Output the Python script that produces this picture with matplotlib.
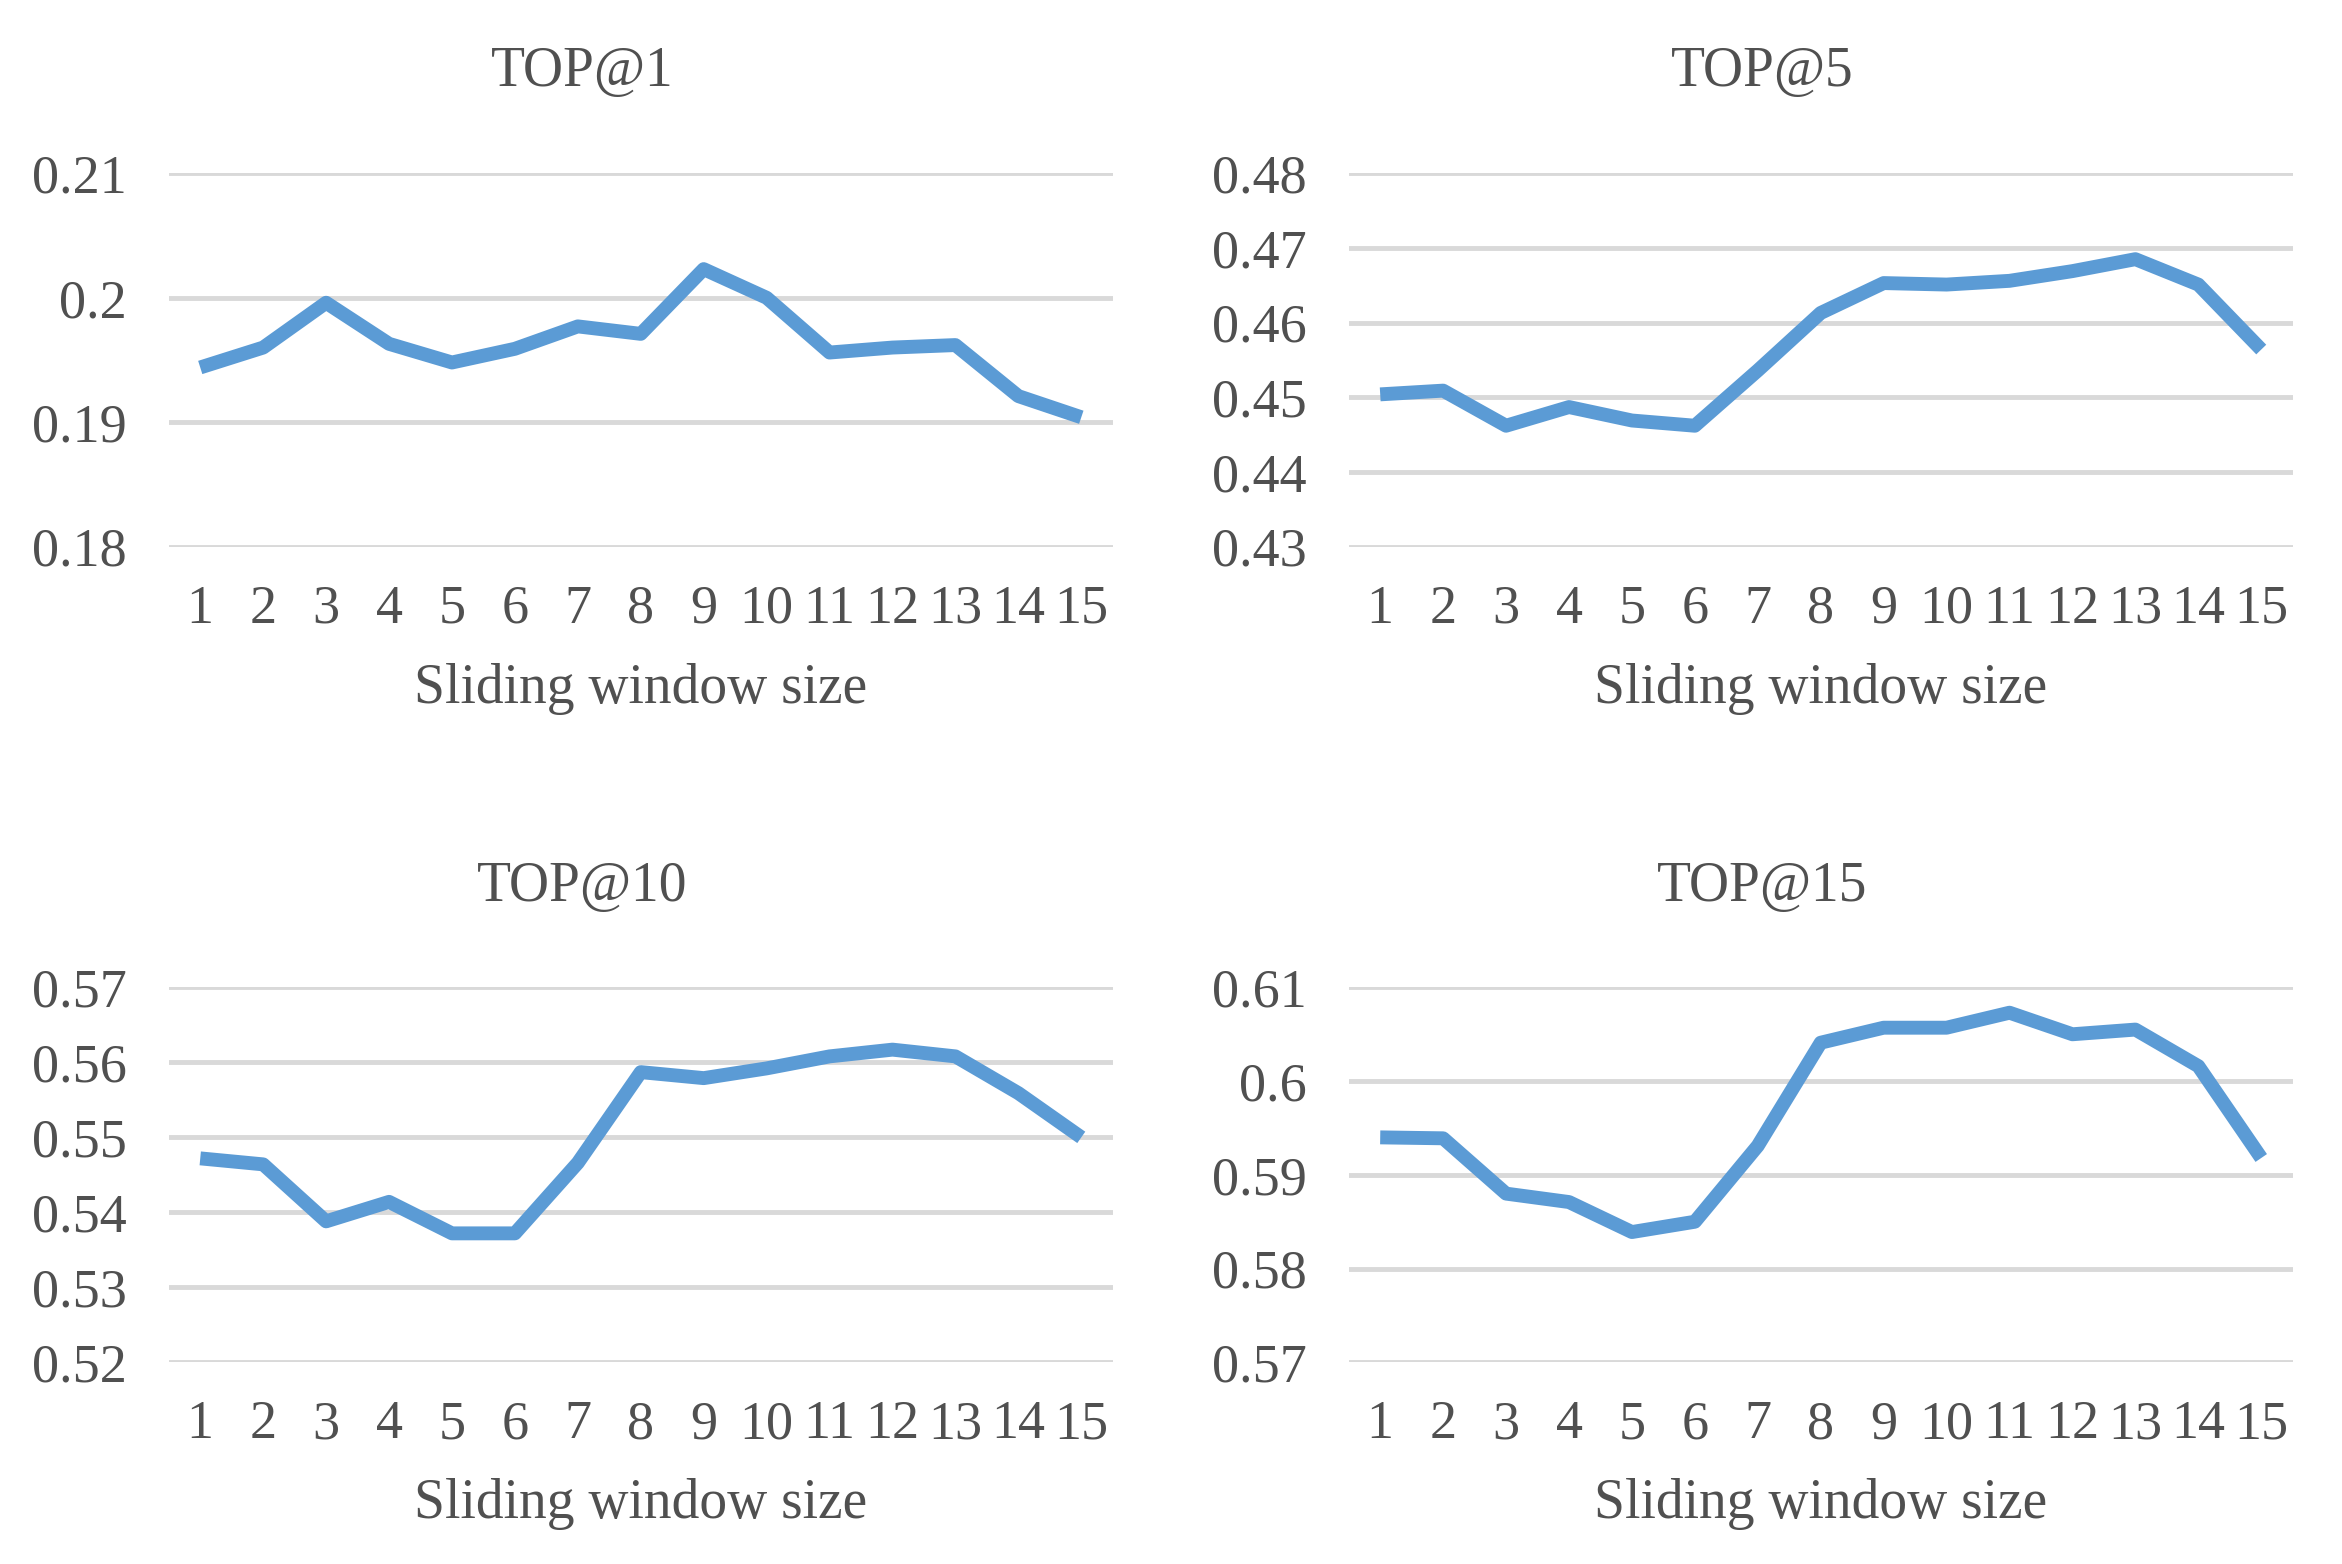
import numpy as np
import matplotlib.pyplot as plt

plt.rcParams['font.family'] = ['Liberation Serif', 'DejaVu Serif']

window = list(range(1, 16))

top1 = [0.1944, 0.1960, 0.1996, 0.1963, 0.1948, 0.1959, 0.1977, 0.1971,
        0.2023, 0.2000, 0.1956, 0.1960, 0.1962, 0.1921, 0.1904]
top5 = [0.4504, 0.4509, 0.4462, 0.4487, 0.4469, 0.4462, 0.4536, 0.4613,
        0.4653, 0.4651, 0.4656, 0.4669, 0.4685, 0.4651, 0.4564]
top10 = [0.5472, 0.5464, 0.5388, 0.5414, 0.5372, 0.5372, 0.5466, 0.5587,
         0.5579, 0.5592, 0.5608, 0.5617, 0.5608, 0.5559, 0.5500]
top15 = [0.5940, 0.5939, 0.5880, 0.5871, 0.5839, 0.5850, 0.5931, 0.6041,
         0.6057, 0.6057, 0.6073, 0.6050, 0.6055, 0.6016, 0.5918]

titles = ['TOP@1', 'TOP@5', 'TOP@10', 'TOP@15']
series = [top1, top5, top10, top15]
yticks = [[0.18, 0.19, 0.2, 0.21],
          [0.43, 0.44, 0.45, 0.46, 0.47, 0.48],
          [0.52, 0.53, 0.54, 0.55, 0.56, 0.57],
          [0.57, 0.58, 0.59, 0.6, 0.61]]
ytick_labels = [['0.18', '0.19', '0.2', '0.21'],
                ['0.43', '0.44', '0.45', '0.46', '0.47', '0.48'],
                ['0.52', '0.53', '0.54', '0.55', '0.56', '0.57'],
                ['0.57', '0.58', '0.59', '0.6', '0.61']]

W, H = 1568, 1047
fig = plt.figure(figsize=(23.42, 15.64), dpi=100)

# axes boxes in pixels of the shrunk reference: left, right, top, bottom
boxes = [(113, 745, 116, 366), (903, 1535, 116, 366),
         (113, 745, 661, 912), (903, 1535, 661, 912)]
title_pos = [(390, 48), (1180, 48), (390, 594), (1180, 594)]

blue = '#5B9BD5'
grey_txt = '#505050'

for i in range(4):
    l, r, t, b = boxes[i]
    ax = fig.add_axes([l / W, 1 - b / H, (r - l) / W, (b - t) / H])
    ax.plot(window, series[i], color=blue, lw=10, solid_joinstyle='round',
            solid_capstyle='butt', zorder=3)
    ax.set_xlim(0.5, 15.5)
    ax.set_ylim(yticks[i][0], yticks[i][-1])
    ax.set_yticks(yticks[i])
    ax.set_yticklabels(ytick_labels[i])
    ax.set_xticks(window)
    ax.set_xticklabels([str(w) for w in window])
    ax.grid(axis='y', color='#D9D9D9', lw=3.5)
    ax.set_axisbelow(True)
    for s in ax.spines.values():
        s.set_visible(False)
    ax.tick_params(length=0, labelsize=39, colors=grey_txt)
    ax.tick_params(axis='y', pad=30)
    ax.tick_params(axis='x', pad=27)
    ax.set_xlabel('Sliding window size', fontsize=40, color=grey_txt, labelpad=20)
    fig.text(title_pos[i][0] / W, 1 - title_pos[i][1] / H, titles[i],
             ha='center', va='center', fontsize=40, color=grey_txt)

fig.savefig('out.png', dpi=100, facecolor='white')
